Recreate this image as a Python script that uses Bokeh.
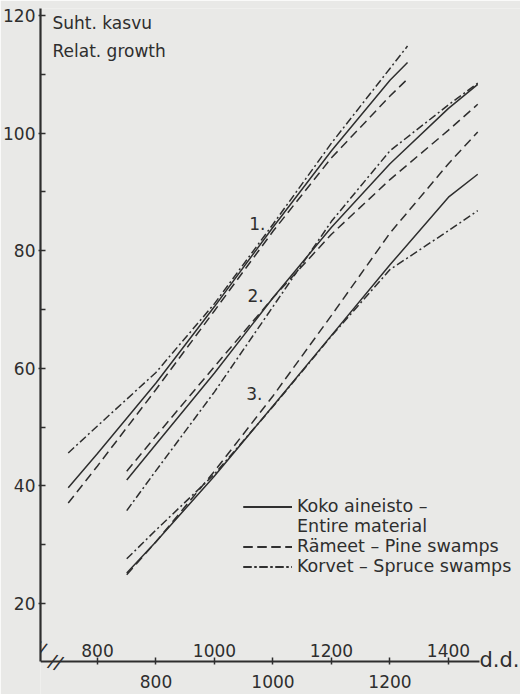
from bokeh.plotting import figure
from bokeh.models import Range1d, LinearAxis, FixedTicker, Legend, LegendItem, Label
from bokeh.embed import file_html
from bokeh.resources import INLINE

# ---- data (x = temperature sum, d.d.; y = relative growth) ----
x1 = [750, 800, 900, 1000, 1100, 1200, 1300, 1330]
koko1 = [39.7, 45.5, 57.5, 70.5, 84.0, 97.0, 109.0, 112.0]
rameet1 = [37.1, 43.4, 56.4, 69.8, 83.3, 95.8, 106.3, 109.2]
korvet1 = [45.6, 50.2, 59.3, 71.0, 84.5, 98.3, 111.0, 114.8]

x2 = [850, 900, 1000, 1100, 1200, 1300, 1400, 1450]
koko2 = [41.0, 47.1, 59.2, 72.0, 84.0, 94.8, 104.2, 108.3]
rameet2 = [42.5, 48.5, 60.3, 72.0, 82.8, 92.1, 100.5, 104.9]
korvet2 = [35.8, 42.6, 56.0, 70.5, 85.0, 97.0, 104.8, 108.5]

x3 = [850, 900, 1000, 1100, 1200, 1300, 1400, 1450]
koko3 = [25.2, 30.5, 41.7, 53.6, 65.6, 77.6, 89.1, 93.0]
rameet3 = [24.9, 30.5, 42.5, 55.3, 69.0, 83.0, 94.8, 100.2]
korvet3 = [27.6, 32.5, 42.0, 53.5, 65.5, 76.8, 83.4, 86.8]

y_ticks = [20, 40, 60, 80, 100, 120]
y_minor = [30, 50, 70, 90, 110]
upper_ticks = [800, 1000, 1200, 1400]
lower_ticks = [800, 1000, 1200]
lower_minor = [700, 900, 1100, 1300]
legend_labels = ["Koko aineisto –", "Entire material", "Rämeet – Pine swamps", "Korvet – Spruce swamps"]
curve_names = ["1.", "2.", "3."]

# ---- style ----
FONT = "DejaVu Sans"
INK = "#2e2e2e"
PAPER = "#e9e9e7"
LW = 1.5
DASH = "9 5"
DASHDOT = "8 3 2 3"
FS = "17px"

X0 = 702.6            # data value at the left edge of the frame
XAXIS_END = 1453.0    # where the horizontal axis line stops
X1 = 1523.1           # data value at the right edge of the frame (room for texts)
YAXIS = 10.14         # level of the horizontal axis line
Y0, Y1 = 4.53, 121.19 # frame runs to the bottom of the page

p = figure(width=520, height=694, output_backend="svg", toolbar_location=None,
           x_range=Range1d(X0, X1), y_range=Range1d(Y0, Y1),
           x_axis_location=None,
           min_border_left=40, min_border_right=0, min_border_top=8, min_border_bottom=0)
p.background_fill_color = PAPER
p.border_fill_color = PAPER
p.outline_line_color = None
p.grid.visible = False
p.extra_x_ranges = {"lower": Range1d(X0 - 100, X1 - 100)}

# y axis
ya = p.yaxis[0]
ya.bounds = (YAXIS, Y1)
ya.ticker = FixedTicker(ticks=y_ticks, minor_ticks=y_minor)
ya.axis_line_color = INK
ya.axis_line_width = 2.2
ya.major_tick_line_color = INK
ya.major_tick_line_width = 1.5
ya.major_tick_in = 5
ya.major_tick_out = 2
ya.minor_tick_line_color = INK
ya.minor_tick_line_width = 1.5
ya.minor_tick_in = 5
ya.minor_tick_out = 0
ya.major_label_standoff = 3
ya.major_label_text_font = FONT
ya.major_label_text_font_size = FS
ya.major_label_text_color = INK

# lower x axis (with the axis line)
xb = LinearAxis(x_range_name="lower", ticker=FixedTicker(ticks=lower_ticks, minor_ticks=lower_minor),
                bounds=(X0 - 100, XAXIS_END - 100), fixed_location=YAXIS)
xb.axis_line_color = INK
xb.axis_line_width = 2.2
xb.major_tick_line_color = INK
xb.major_tick_line_width = 1.5
xb.major_tick_in = 4
xb.major_tick_out = 3
xb.minor_tick_line_color = INK
xb.minor_tick_line_width = 1.5
xb.minor_tick_in = 4
xb.minor_tick_out = 3
xb.major_label_standoff = 10
xb.major_label_text_font = FONT
xb.major_label_text_font_size = FS
xb.major_label_text_color = INK
p.add_layout(xb, "below")

# upper x labels, drawn on the same line (fixed location)
xa = LinearAxis(ticker=FixedTicker(ticks=upper_ticks), fixed_location=YAXIS)
xa.axis_line_color = None
xa.major_tick_line_color = None
xa.minor_tick_line_color = None
xa.major_tick_in = 0
xa.major_tick_out = 0
xa.minor_tick_in = 0
xa.minor_tick_out = 0
xa.major_label_standoff = 5
xa.major_label_text_font = FONT
xa.major_label_text_font_size = FS
xa.major_label_text_color = INK
p.add_layout(xa, "above")

# ---- curves ----
def draw(x, ys):
    rs = []
    for y, dash in zip(ys, ["solid", DASH, DASHDOT]):
        rs.append(p.line(x, y, line_color=INK, line_width=LW, line_dash=dash))
    return rs

g1 = draw(x1, [koko1, rameet1, korvet1])
g2 = draw(x2, [koko2, rameet2, korvet2])
g3 = draw(x3, [koko3, rameet3, korvet3])
blank = p.line(x=[], y=[], line_alpha=0)

legend = Legend(items=[
    LegendItem(label=legend_labels[0], renderers=[g1[0], g2[0], g3[0]]),
    LegendItem(label=legend_labels[1], renderers=[blank]),
    LegendItem(label=legend_labels[2], renderers=[g1[1], g2[1], g3[1]]),
    LegendItem(label=legend_labels[3], renderers=[g1[2], g2[2], g3[2]]),
], location=(203, 118))
legend.background_fill_alpha = 0
legend.border_line_alpha = 0
legend.padding = 0
legend.margin = 0
legend.spacing = 0
legend.glyph_width = 49
legend.glyph_height = 19
legend.label_height = 19
legend.label_standoff = 5
legend.label_text_font = FONT
legend.label_text_font_size = "17.5px"
legend.label_text_line_height = 1.0
legend.label_text_color = INK
legend.label_text_baseline = "middle"
p.add_layout(legend)

# ---- texts ----
def txt(x, y, t, size=FS, **kw):
    lab = Label(x=x, y=y, text=t, text_font=FONT, text_font_size=size, text_color=INK, **kw)
    p.add_layout(lab)

txt(X0, Y1, "Suht. kasvu", x_offset=12, y_offset=-14, text_baseline="alphabetic")
txt(X0, Y1, "Relat. growth", x_offset=12, y_offset=-42, text_baseline="alphabetic")
txt(1087, 84.6, curve_names[0], text_align="right", text_baseline="middle")
txt(1084, 72.4, curve_names[1], text_align="right", text_baseline="middle")
txt(1082, 55.7, curve_names[2], text_align="right", text_baseline="middle")
txt(XAXIS_END, YAXIS, "d.d.", size="21px", x_offset=0, y_offset=2, text_baseline="middle")
txt(X0, 12.4, "//", size="19px", x_offset=-1, text_align="center", text_baseline="middle", angle=-0.35)
txt(729, YAXIS, "//", size="19px", text_align="center", text_baseline="middle", angle=-0.35)

open("out.html", "w").write(file_html(p, INLINE))
